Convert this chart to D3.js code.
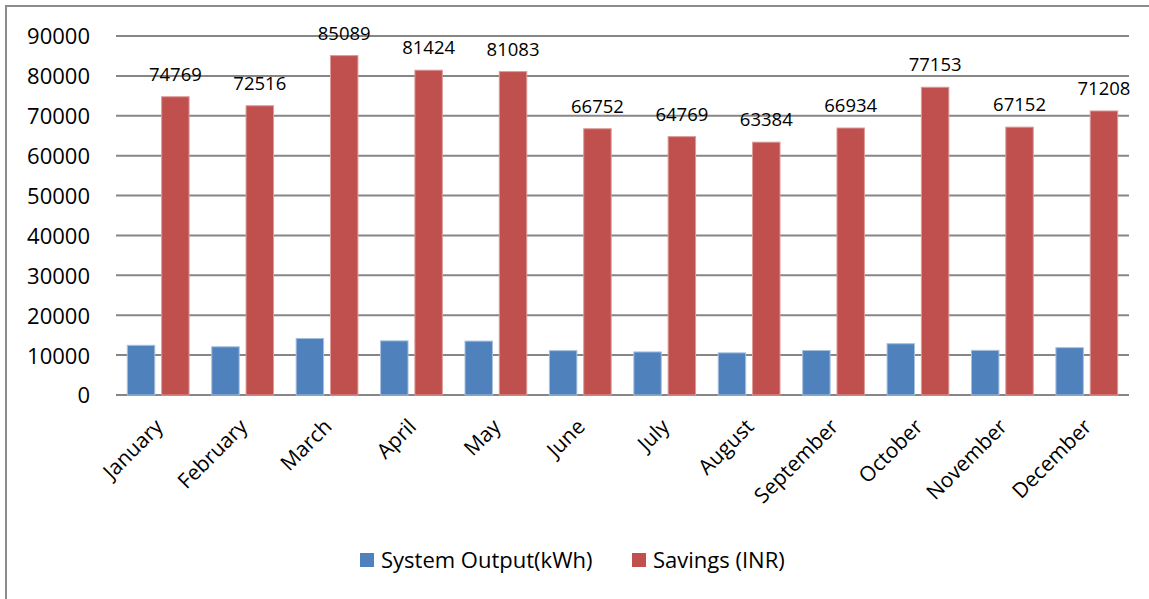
<!DOCTYPE html>
<html>
<head>
<meta charset="utf-8">
<script src="https://cdn.jsdelivr.net/npm/d3@7"></script>
<style>
  body { margin: 0; background: #fff; }
  text { font-family: "Open Sans", sans-serif; fill: #000; }
</style>
</head>
<body>
<div id="field"></div>
<script>
// chart data
const months = ["January", "February", "March", "April", "May", "June",
    "July", "August", "September", "October", "November", "December"];
const output = [12461, 12086, 14182, 13571, 13514, 11125, 10795, 10564, 11156, 12859, 11192, 11868];
const savings = [74769, 72516, 85089, 81424, 81083, 66752, 64769, 63384, 66934, 77153, 67152, 71208];
const yTicks = [0, 10000, 20000, 30000, 40000, 50000, 60000, 70000, 80000, 90000];
const seriesNames = ["System Output(kWh)", "Savings (INR)"];
const colors = ["#4f81bd", "#c0504d"];

const width = 1149, height = 599;
const plotLeft = 116, plotRight = 1129, plotTop = 36, plotBottom = 395;

const svg = d3.select("#field")
    .append("svg")
    .attr("width", width)
    .attr("height", height);

// outer frame
svg.append("rect")
    .attr("x", 6)
    .attr("y", 6)
    .attr("width", width + 10)
    .attr("height", height + 10)
    .attr("fill", "none")
    .attr("stroke", "#8c8c8c")
    .attr("stroke-width", 2);

const x = d3.scaleBand()
    .domain(months)
    .range([plotLeft, plotRight]);

const xInner = d3.scaleBand()
    .domain([0, 1])
    .range([0, x.bandwidth()])
    .paddingInner(0.2)
    .paddingOuter(0.33);

const y = d3.scaleLinear()
    .domain([0, 90000])
    .range([plotBottom, plotTop]);

// gridlines
svg.append("g")
    .selectAll("line")
    .data(yTicks)
    .enter().append("line")
    .attr("x1", plotLeft)
    .attr("x2", plotRight)
    .attr("y1", function(d) { return y(d); })
    .attr("y2", function(d) { return y(d); })
    .attr("stroke", "#868686")
    .attr("stroke-width", 2);

// y axis labels
const yAxis = d3.axisLeft(y)
    .tickValues(yTicks)
    .tickSize(0)
    .tickPadding(26)
    .tickFormat(d3.format("d"));

svg.append("g")
    .attr("transform", "translate(" + plotLeft + ",0)")
    .call(yAxis)
    .call(function(g) { g.select(".domain").remove(); })
    .selectAll("text")
    .style("font-size", "22px")
    .attr("dy", "0.36em");

// bars
const series = [output, savings];
series.forEach(function(values, s) {
    svg.append("g")
        .selectAll("rect")
        .data(values)
        .enter().append("rect")
        .attr("x", function(d, i) { return x(months[i]) + xInner(s); })
        .attr("y", function(d) { return y(d); })
        .attr("width", xInner.bandwidth())
        .attr("height", function(d) { return y(0) - y(d); })
        .attr("fill", colors[s])
        .attr("stroke", s === 0 ? "#a7c0de" : "#dc9a98")
        .attr("stroke-width", 1);
});

// data labels on savings
svg.append("g")
    .selectAll("text")
    .data(savings)
    .enter().append("text")
    .attr("x", function(d, i) { return x(months[i]) + xInner(1) + xInner.bandwidth() / 2; })
    .attr("y", function(d) { return y(d) - 16; })
    .attr("text-anchor", "middle")
    .style("font-size", "18.5px")
    .text(function(d) { return d; });

// x axis labels
const xAxis = d3.axisBottom(x)
    .tickSize(0)
    .tickPadding(0);

svg.append("g")
    .attr("transform", "translate(0," + plotBottom + ")")
    .call(xAxis)
    .call(function(g) { g.select(".domain").remove(); })
    .selectAll("text")
    .style("font-size", "21px")
    .attr("text-anchor", "end")
    .attr("dy", 0)
    .attr("transform", "translate(6,33) rotate(-45)");

// legend
const legendX = [360, 632];
const legend = svg.append("g");
seriesNames.forEach(function(name, i) {
    legend.append("rect")
        .attr("x", legendX[i])
        .attr("y", 553)
        .attr("width", 14)
        .attr("height", 14)
        .attr("fill", colors[i]);
    legend.append("text")
        .attr("x", legendX[i] + 21)
        .attr("y", 560)
        .attr("dy", "0.36em")
        .style("font-size", "22px")
        .text(name);
});
</script>
</body>
</html>
